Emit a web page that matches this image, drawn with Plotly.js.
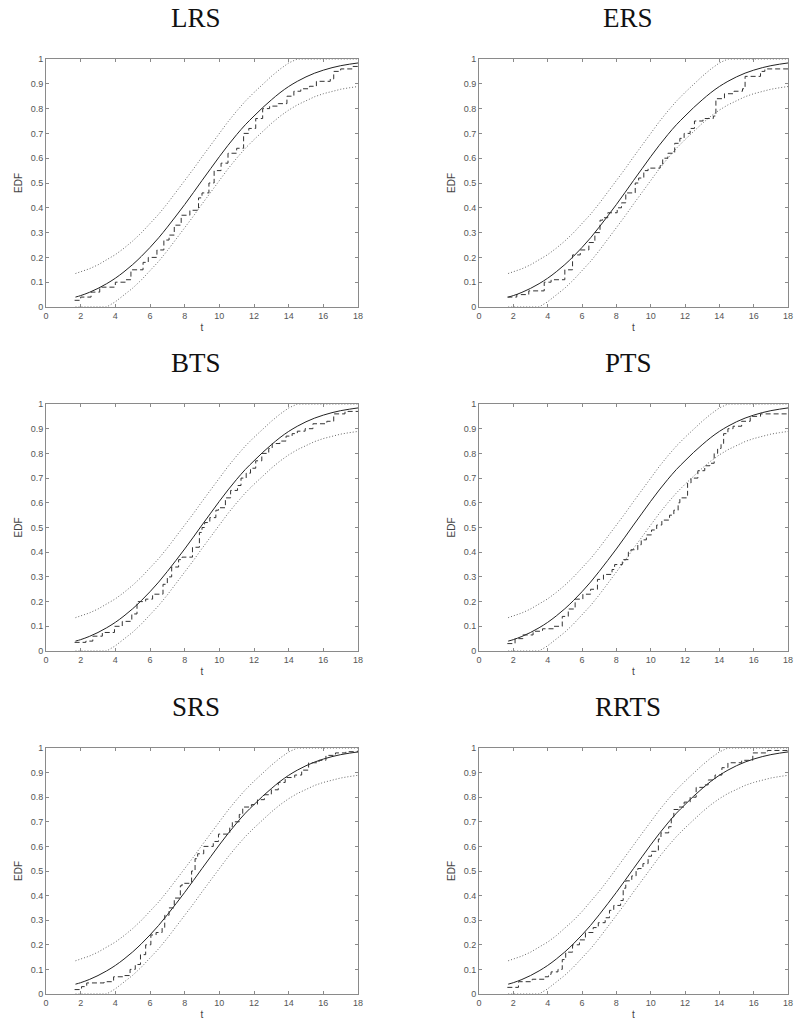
<!DOCTYPE html>
<html>
<head>
<meta charset="utf-8">
<script src="https://cdn.plot.ly/plotly-3.0.1.min.js"></script>
<style>html,body{margin:0;padding:0;background:#fff;}#chart{width:796px;height:1023px;}</style>
</head>
<body>
<div id="chart"></div>
<script>
// Panel titles (sampling designs)
const panelTitles = ["LRS", "ERS", "BTS", "PTS", "SRS", "RRTS"];
const xTickVals = [0, 2, 4, 6, 8, 10, 12, 14, 16, 18];
const yTickVals = [0, 0.1, 0.2, 0.3, 0.4, 0.5, 0.6, 0.7, 0.8, 0.9, 1];

// True CDF (solid) and confidence band (dotted), shared by all panels
const T = [1.7,2,2.5,3,3.5,4,4.5,5,5.5,6,6.5,7,7.5,8,8.5,9,9.5,10,10.5,11,11.5,12,12.5,13,13.5,14,14.5,15,15.5,16,16.5,17,17.5,18];
const F_true = [0.040,0.046,0.059,0.075,0.094,0.116,0.142,0.171,0.204,0.240,0.279,0.322,0.367,0.413,0.461,0.510,0.558,0.606,0.652,0.695,0.735,0.770,0.804,0.835,0.864,0.889,0.910,0.928,0.943,0.955,0.965,0.973,0.979,0.984];
const F_upper = [0.135,0.141,0.154,0.170,0.189,0.211,0.237,0.266,0.299,0.335,0.374,0.417,0.462,0.508,0.556,0.605,0.653,0.701,0.747,0.790,0.830,0.865,0.899,0.930,0.959,0.984,1,1,1,1,1,1,1,1];
const F_lower = [0,0,0,0,0,0.021,0.047,0.076,0.109,0.145,0.184,0.227,0.272,0.318,0.366,0.415,0.463,0.511,0.557,0.600,0.640,0.675,0.709,0.740,0.769,0.794,0.815,0.833,0.848,0.860,0.870,0.878,0.884,0.889];

// Empirical distribution functions (dashed), step start points
const LRS_t = [1.65,2.0,2.6,3.1,4.0,4.6,4.9,5.6,5.9,6.4,6.8,7.1,7.4,7.8,8.3,8.8,9.0,9.4,9.7,10.1,10.5,11.0,11.4,11.7,12.1,12.5,12.9,13.4,13.9,14.3,14.7,15.2,15.6,16.4,16.6,17.0,17.7,18.0];
const LRS_v = [0.027,0.04,0.06,0.08,0.10,0.11,0.15,0.18,0.20,0.23,0.27,0.29,0.33,0.37,0.39,0.44,0.46,0.50,0.55,0.58,0.62,0.64,0.70,0.72,0.76,0.80,0.81,0.82,0.85,0.87,0.88,0.89,0.91,0.92,0.95,0.96,0.97,0.97];
const ERS_t = [1.65,2.2,2.9,3.8,4.2,5.0,5.45,5.9,6.4,6.75,7.05,7.2,7.5,8.05,8.3,8.55,9.1,9.3,9.6,9.85,10.55,10.7,11.0,11.4,11.7,11.95,12.3,12.55,13.05,13.65,13.8,14.3,14.85,15.35,15.5,16.4,16.65,18.0];
const ERS_v = [0.04,0.05,0.065,0.10,0.11,0.15,0.21,0.23,0.26,0.30,0.35,0.36,0.38,0.40,0.42,0.46,0.50,0.52,0.55,0.56,0.57,0.60,0.62,0.66,0.68,0.70,0.72,0.75,0.76,0.77,0.84,0.86,0.87,0.88,0.93,0.95,0.96,0.96];
const BTS_t = [1.65,2.3,2.7,3.25,3.95,4.4,4.95,5.25,5.75,6.15,6.75,7.0,7.25,7.65,7.85,8.45,8.85,9.0,9.15,9.45,9.8,9.95,10.35,10.65,11.05,11.25,11.55,11.8,12.1,12.45,12.85,13.05,13.5,13.85,14.2,14.5,14.95,15.4,16.2,16.6,17.25,18.0];
const BTS_v = [0.035,0.04,0.06,0.075,0.10,0.12,0.15,0.20,0.21,0.23,0.27,0.30,0.34,0.37,0.38,0.42,0.48,0.50,0.52,0.54,0.57,0.58,0.62,0.65,0.67,0.70,0.72,0.74,0.77,0.80,0.82,0.84,0.85,0.87,0.88,0.89,0.90,0.92,0.93,0.96,0.97,0.97];
const PTS_t = [1.65,2.1,2.55,3.15,3.7,4.35,4.85,5.2,5.6,6.05,6.5,6.9,7.25,7.75,7.9,8.35,8.7,8.85,9.25,9.45,9.75,10.05,10.35,10.65,11.1,11.35,11.6,11.7,12.1,12.15,12.35,12.75,13.15,13.45,13.7,13.9,14.1,14.25,14.5,14.8,15.3,15.8,16.4,18.0];
const PTS_v = [0.03,0.05,0.065,0.08,0.09,0.10,0.14,0.17,0.21,0.23,0.25,0.29,0.31,0.33,0.35,0.37,0.40,0.41,0.43,0.45,0.47,0.49,0.51,0.53,0.55,0.57,0.60,0.62,0.63,0.68,0.70,0.73,0.75,0.76,0.80,0.82,0.84,0.88,0.90,0.91,0.93,0.95,0.96,0.96];
const SRS_t = [1.65,2.05,2.35,3.35,3.9,4.5,4.85,5.15,5.45,5.75,6.05,6.35,6.7,6.85,7.1,7.4,7.75,7.85,8.4,8.6,8.75,9.1,9.65,9.95,10.6,10.75,11.15,11.35,11.85,12.2,12.6,13.0,13.4,13.8,14.35,14.75,15.15,15.75,16.15,16.7,17.3,18.0];
const SRS_v = [0.018,0.03,0.045,0.05,0.07,0.075,0.10,0.12,0.16,0.20,0.24,0.25,0.27,0.32,0.35,0.39,0.44,0.45,0.50,0.55,0.57,0.60,0.62,0.65,0.68,0.70,0.73,0.76,0.77,0.79,0.81,0.83,0.86,0.88,0.89,0.91,0.94,0.95,0.97,0.98,0.985,0.99];
const RRTS_t = [1.65,2.3,3.1,3.85,4.05,4.2,4.6,4.85,5.05,5.45,5.85,6.2,6.65,6.95,7.35,7.6,7.85,8.25,8.4,8.55,8.9,9.15,9.25,9.55,9.85,10.05,10.45,10.6,11.05,11.2,11.35,11.65,11.95,12.3,12.65,13.1,13.35,13.75,14.15,14.5,15.3,15.95,16.8,18.0];
const RRTS_v = [0.027,0.05,0.06,0.07,0.08,0.09,0.10,0.14,0.17,0.20,0.22,0.25,0.27,0.29,0.31,0.34,0.36,0.38,0.43,0.46,0.48,0.50,0.51,0.53,0.56,0.58,0.63,0.655,0.68,0.72,0.75,0.76,0.78,0.80,0.84,0.85,0.87,0.89,0.92,0.94,0.95,0.98,0.99,0.99];

const edfT = [LRS_t, ERS_t, BTS_t, PTS_t, SRS_t, RRTS_t];
const edfV = [LRS_v, ERS_v, BTS_v, PTS_v, SRS_v, RRTS_v];

// Layout geometry (pixels)
const W = 796, H = 1023;
const colX = [[46, 358], [479, 788]];
const rowY = [[59, 307], [404, 651], [748, 994]];
const titleCx = [196, 628];
const titleCy = [18, 363, 707];

const traces = [];
const layout = {
  width: W, height: H,
  margin: {l: 0, r: 0, t: 0, b: 0},
  paper_bgcolor: '#fff', plot_bgcolor: '#fff',
  showlegend: false,
  font: {family: 'Liberation Sans, Arial, sans-serif', size: 9, color: '#555'},
  annotations: []
};

for (let i = 0; i < 6; i++) {
  const r = Math.floor(i / 2), c = i % 2;
  const n = i + 1;
  const xa = n === 1 ? 'x' : 'x' + n;
  const ya = n === 1 ? 'y' : 'y' + n;
  const axBase = {
    showline: true, mirror: 'ticks', linecolor: '#8a8a8a', linewidth: 1,
    ticks: 'inside', ticklen: 3, tickcolor: '#8a8a8a', tickwidth: 1,
    showgrid: false, zeroline: false, fixedrange: true,
    tickfont: {family: 'Liberation Sans, Arial, sans-serif', size: 9, color: '#555'}
  };
  layout['xaxis' + (n === 1 ? '' : n)] = Object.assign({}, axBase, {
    domain: [colX[c][0] / W, colX[c][1] / W],
    anchor: ya, range: [0, 18], tickvals: xTickVals,
    ticktext: xTickVals.map(String),
    title: {text: 't', font: {size: 10, color: '#444'}, standoff: 4}
  });
  layout['yaxis' + (n === 1 ? '' : n)] = Object.assign({}, axBase, {
    domain: [1 - rowY[r][1] / H, 1 - rowY[r][0] / H],
    anchor: xa, range: [0, 1], tickvals: yTickVals,
    ticktext: yTickVals.map(String),
    title: {text: 'EDF', font: {size: 10, color: '#444'}, standoff: 6}
  });

  traces.push({x: T, y: F_upper, xaxis: xa, yaxis: ya, type: 'scatter', mode: 'lines',
    line: {color: '#666', width: 1, dash: '1px,2px'}, hoverinfo: 'skip'});
  traces.push({x: T, y: F_lower, xaxis: xa, yaxis: ya, type: 'scatter', mode: 'lines',
    line: {color: '#666', width: 1, dash: '1px,2px'}, hoverinfo: 'skip'});
  traces.push({x: T, y: F_true, xaxis: xa, yaxis: ya, type: 'scatter', mode: 'lines',
    line: {color: '#222', width: 1, shape: 'spline'}, hoverinfo: 'skip'});
  traces.push({x: edfT[i], y: edfV[i], xaxis: xa, yaxis: ya, type: 'scatter', mode: 'lines',
    line: {color: '#333', width: 1, dash: '5px,3px', shape: 'hv'}, hoverinfo: 'skip'});

  layout.annotations.push({
    text: panelTitles[i], xref: 'paper', yref: 'paper',
    x: titleCx[c] / W, y: 1 - titleCy[r] / H, xanchor: 'center', yanchor: 'middle',
    showarrow: false, font: {family: 'Liberation Serif, Times New Roman, serif', size: 27, color: '#111'}
  });
}

Plotly.newPlot('chart', traces, layout, {displayModeBar: false, staticPlot: true});
</script>
</body>
</html>
